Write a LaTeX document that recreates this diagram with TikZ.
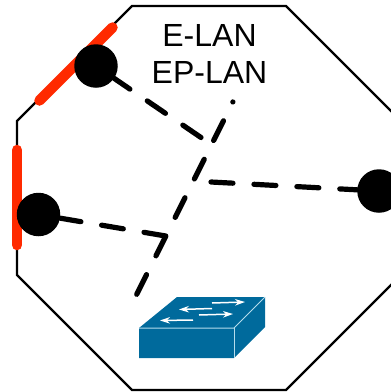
\documentclass[tikz,border=0pt]{standalone}
\usepackage{fontspec}
\setmainfont{Liberation Sans}
\usetikzlibrary{arrows.meta}
\definecolor{swblue}{HTML}{006A9C}
\definecolor{swedge}{HTML}{B5DCEC}
\definecolor{redbar}{HTML}{FF2A00}
\tikzset{
  outline/.style={draw=black,line width=2.2pt,line join=miter},
  redseg/.style={draw=redbar,line width=10.5pt,line cap=round},
  site/.style={circle,fill=black,draw=none,minimum size=43.5pt,inner sep=0pt},
  evc/.style={draw=black,line width=5.2pt,line cap=round,dash pattern=on 22pt off 21pt},
  swface/.style={fill=swblue,draw=none},
  swline/.style={draw=swedge,line width=1pt,line join=round},
  swarrow/.style={draw=white,line width=1.5pt,-{Stealth[length=10pt,width=6.5pt]}},
  label/.style={font=\fontsize{32}{37}\selectfont,text=black,inner sep=0pt,align=center}
}
\begin{document}
\begin{tikzpicture}[x=1pt,y=-1pt]
\useasboundingbox (0,0) rectangle (391,392);
\clip (0,0) rectangle (391,392);
\draw[outline] (132,6) -- (286,6) -- (401,121) -- (401,275) -- (286,390) -- (132,390) -- (17,275) -- (17,121) -- cycle;
\draw[redseg] (39.5,100.5) -- (112.5,27.5);
\draw[redseg] (17,150) -- (17,245);
\node[site] (top) at (96,66) {};
\node[site] (left) at (38.5,214.5) {};
\node[site] (right) at (379,191) {};
\node[label,anchor=base] (t1) at (209.5,46.5) {E-LAN};
\node[label,anchor=base] (t2) at (209.5,83.5) {EP-LAN};
\coordinate (topfree) at (201,137.5);
\coordinate (rightfree) at (211,182);
\coordinate (corner) at (165.7,236);
\coordinate (swtop) at (136.7,294.3);
\coordinate (dot) at (232.9,101.9);
\draw[evc] (topfree) -- (top);
\draw[evc] (rightfree) -- (right);
\draw[evc] (corner) -- (left);
\draw[evc] (swtop) -- (dot);
% switch
\fill[swface] (139,328) -- (177,297) -- (265,297) -- (265,327) -- (234,358) -- (139,358) -- cycle;
\draw[swline] (139,328) -- (234,328) -- (265,297);
\draw[swline] (234,328) -- (234,358);
\draw[swarrow] (212,303) -- (245,302);
\draw[swarrow] (212,308.5) -- (179,309.5);
\draw[swarrow] (199,315) -- (233,314);
\draw[swarrow] (193,320) -- (160,320.5);
\end{tikzpicture}
\end{document}
